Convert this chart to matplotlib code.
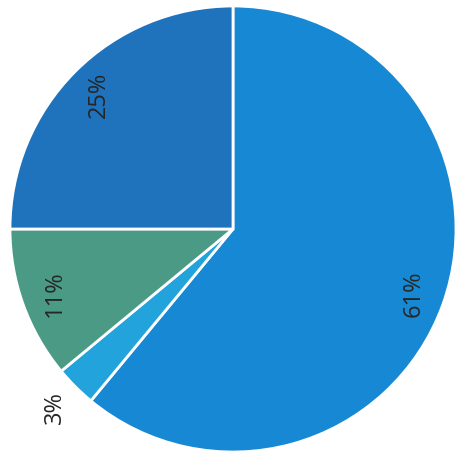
import matplotlib
matplotlib.use("Agg")
import matplotlib.pyplot as plt
import numpy as np

labels = ["61%", "3%", "11%", "25%"]
values = [61, 3, 11, 25]
colors = ["#1788d3", "#22a3dc", "#4b9a86", "#1f72bc"]
label_dist = [0.86, 1.13, 0.85, 0.85]

fig = plt.figure(figsize=(4.55, 4.59), dpi=100)
ax = fig.add_axes([0, 0, 1, 1])
wedges, _ = ax.pie(values, colors=colors, startangle=90, counterclock=False,
                   wedgeprops=dict(edgecolor="white", linewidth=2))
for w, lab, d in zip(wedges, labels, label_dist):
    mid = np.deg2rad((w.theta1 + w.theta2) / 2)
    ax.text(d * np.cos(mid), d * np.sin(mid), lab, rotation=90,
            ha="center", va="center", fontsize=17, color="#262626",
            family=["Open Sans", "DejaVu Sans"])
ax.set_aspect("auto")
ax.set_xlim(-233 / 223, (455 - 233) / 223)
ax.set_ylim(-230 / 223, 229 / 223)
ax.axis("off")
fig.savefig("out.png", dpi=100)
